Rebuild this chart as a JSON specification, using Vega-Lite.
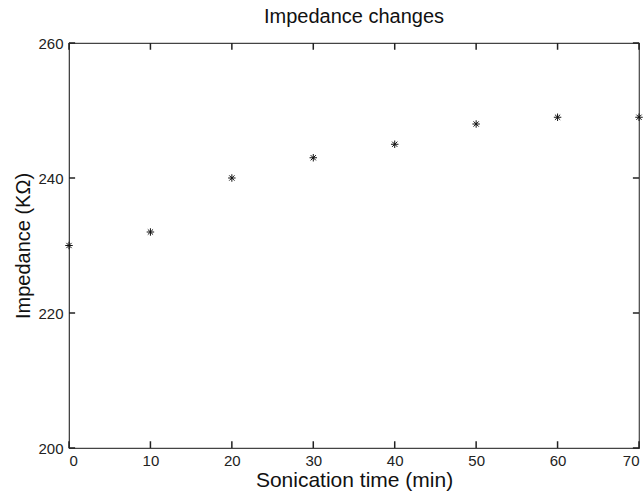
{
  "$schema": "https://vega.github.io/schema/vega-lite/v6.json",
  "width": 570,
  "height": 405,
  "autosize": "none",
  "padding": {"left": 69, "top": 43, "right": 5, "bottom": 46},
  "background": "white",
  "config": {
    "font": "Liberation Sans",
    "view": {"stroke": "#444", "strokeWidth": 1.2},
    "axis": {"grid": false, "domainColor": "#444", "ticks": false, "labelColor": "#222", "titleColor": "#111", "labelFont": "Liberation Sans", "titleFont": "Liberation Sans", "labelFontSize": 15, "titleFontSize": 20, "titleFontWeight": "normal"}
  },
  "title": {"text": "Impedance changes", "fontSize": 20, "fontWeight": "normal", "font": "Liberation Sans", "color": "#111", "offset": 9},
  "datasets": {
    "points": [
      {"time": 0, "impedance": 230},
      {"time": 10, "impedance": 232},
      {"time": 20, "impedance": 240},
      {"time": 30, "impedance": 243},
      {"time": 40, "impedance": 245},
      {"time": 50, "impedance": 248},
      {"time": 60, "impedance": 249},
      {"time": 70, "impedance": 249}
    ],
    "xticks": [{"t": 0}, {"t": 10}, {"t": 20}, {"t": 30}, {"t": 40}, {"t": 50}, {"t": 60}, {"t": 70}],
    "yticks": [{"v": 200}, {"v": 220}, {"v": 240}, {"v": 260}]
  },
  "layer": [
    {
      "data": {"name": "xticks"},
      "mark": {"type": "rule", "color": "#222", "strokeWidth": 1.5},
      "encoding": {"x": {"field": "t", "type": "quantitative"}, "y": {"datum": 200}, "y2": {"datum": 201}}
    },
    {
      "data": {"name": "xticks"},
      "mark": {"type": "rule", "color": "#222", "strokeWidth": 1.5},
      "encoding": {"x": {"field": "t", "type": "quantitative"}, "y": {"datum": 259}, "y2": {"datum": 260}}
    },
    {
      "data": {"name": "yticks"},
      "mark": {"type": "rule", "color": "#222", "strokeWidth": 1.5},
      "encoding": {"y": {"field": "v", "type": "quantitative"}, "x": {"datum": 0}, "x2": {"datum": 0.75}}
    },
    {
      "data": {"name": "yticks"},
      "mark": {"type": "rule", "color": "#222", "strokeWidth": 1.5},
      "encoding": {"y": {"field": "v", "type": "quantitative"}, "x": {"datum": 69.25}, "x2": {"datum": 70}}
    },
    {
      "data": {"name": "points"},
      "mark": {"type": "point", "shape": "M-1,0L1,0M0,-1L0,1M-0.7,-0.7L0.7,0.7M-0.7,0.7L0.7,-0.7", "filled": false, "stroke": "#111", "strokeWidth": 1, "size": 56, "opacity": 1},
      "encoding": {
        "x": {"field": "time", "type": "quantitative", "scale": {"domain": [0, 70], "nice": false}, "axis": {"orient": "bottom", "values": [0,10,20,30,40,50,60,70], "title": "Sonication time (min)", "titleFontSize": 21, "labelPadding": 5, "titlePadding": 1}},
        "y": {"field": "impedance", "type": "quantitative", "scale": {"domain": [200, 260], "nice": false, "zero": false}, "axis": {"orient": "left", "values": [200,220,240,260], "title": "Impedance (KΩ)", "labelPadding": 6, "titlePadding": 4}}
      }
    }
  ]
}
